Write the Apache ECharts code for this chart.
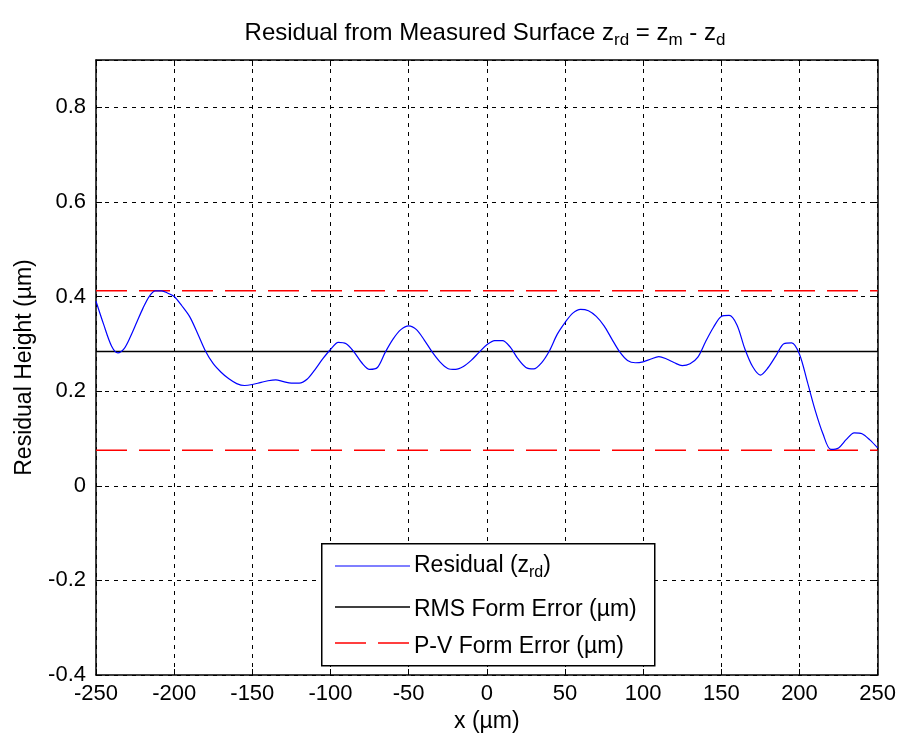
<!DOCTYPE html>
<html><head><meta charset="utf-8">
<script src="https://cdn.jsdelivr.net/npm/echarts@6/dist/echarts.min.js"></script>
<style>html,body{margin:0;padding:0;background:#fff}#c{width:899px;height:742px}</style>
</head><body><div id="c"></div>
<script>
const xValues = [-250,-245,-240,-236,-232,-228,-224,-220,-216,-212,-208,-204,-200,-195,-190,-185,-180,-175,-170,-165,-160,-155,-150,-145,-140,-135,-130,-125,-120,-115,-110,-105,-100,-95,-90,-85,-80,-75,-70,-65,-60,-55,-50,-45,-40,-35,-30,-25,-20,-15,-10,-5,0,5,10,15,20,25,30,35,40,45,50,55,60,65,70,75,80,85,90,95,100,105,110,115,120,125,130,135,140,145,150,155,160,165,170,175,180,185,190,195,200,205,210,215,220,225,230,235,240,245,250];
const residual = [0.390,0.340,0.295,0.281,0.290,0.315,0.345,0.375,0.400,0.412,0.412,0.407,0.400,0.380,0.357,0.322,0.285,0.258,0.240,0.226,0.216,0.212,0.214,0.218,0.222,0.224,0.220,0.217,0.217,0.225,0.245,0.268,0.288,0.303,0.300,0.283,0.260,0.246,0.250,0.282,0.310,0.330,0.338,0.330,0.308,0.283,0.262,0.248,0.246,0.252,0.265,0.282,0.298,0.307,0.307,0.293,0.268,0.250,0.247,0.260,0.285,0.320,0.345,0.365,0.373,0.370,0.358,0.338,0.310,0.283,0.265,0.260,0.262,0.268,0.273,0.268,0.260,0.254,0.258,0.272,0.305,0.335,0.358,0.360,0.340,0.290,0.252,0.234,0.250,0.275,0.300,0.302,0.278,0.220,0.160,0.110,0.077,0.080,0.098,0.112,0.110,0.097,0.080];
const rmsValue = 0.284;
const pvTop = 0.412;
const pvBottom = 0.075;
const xRange = [-250, 250];
const yRange = [-0.4, 0.9];
const xTicks = [-250,-200,-150,-100,-50,0,50,100,150,200,250];
const yTicks = [-0.4,-0.2,0,0.2,0.4,0.6,0.8];
const seriesNames = ['Residual (zrd)', 'RMS Form Error (µm)', 'P-V Form Error (µm)'];

const FONT = 'Liberation Sans';
const TICK_FS = 22;
const LABEL_FS = 23;
const chart = echarts.init(document.getElementById('c'), null, {renderer: 'canvas'});
const gridLine = {show: true, lineStyle: {color: '#000', type: [4, 5], width: 1}};
const axisLine = {show: true, onZero: false, lineStyle: {color: '#000', width: 1.5}};
const tick = {show: true, inside: true, length: 6, lineStyle: {color: '#000', width: 1}};
const PV_DASH = [31, 12];
const colors = ['#0000ff', '#000000', '#ff0000'];

// legend drawn as graphic (box, sample lines, labels)
const LG = {x: 321, y: 543, w: 333, h: 122, lineRows: [566, 607, 643], textRows: [566, 610, 647], lx0: 335, lx1: 410, tx: 414};
const legendLabels = ['{t|Residual (z}{s|rd}{t|)}', '{t|RMS Form Error (µm)}', '{t|P-V Form Error (µm)}'];
const legendGraphics = [
  {type: 'rect', left: LG.x, top: LG.y, shape: {width: LG.w, height: LG.h},
    style: {fill: '#fff', stroke: '#000', lineWidth: 1.5}, z: 100}
];
LG.lineRows.forEach((ry, i) => {
  legendGraphics.push({type: 'line', shape: {x1: LG.lx0, y1: ry, x2: LG.lx1, y2: ry},
    style: {stroke: colors[i], lineWidth: i === 0 ? 1.2 : 1.5, lineDash: i === 2 ? PV_DASH : null}, z: 101});
  legendGraphics.push({type: 'text', x: LG.tx, y: LG.textRows[i],
    style: {text: legendLabels[i], rich: {
      t: {fontFamily: FONT, fontSize: LABEL_FS, fill: '#000'},
      s: {fontFamily: FONT, fontSize: 16, fill: '#000', padding: [13, 0, 0, 0]}
    }, verticalAlign: 'middle', align: 'left'}, z: 101});
});

chart.setOption({
  animation: false,
  backgroundColor: '#fff',
  title: {
    text: '{t|Residual from Measured Surface z}{s|rd}{t| = z}{s|m}{t| - z}{s|d}',
    left: 480, top: 13, textAlign: 'center',
    textStyle: {fontWeight: 'normal', rich: {
      t: {fontFamily: FONT, fontSize: 24, color: '#000'},
      s: {fontFamily: FONT, fontSize: 17, color: '#000', padding: [14, 0, 0, 0]}
    }}
  },
  grid: {left: 96, right: 21, top: 60, bottom: 67, containLabel: false},
  graphic: legendGraphics,
  xAxis: [{
    type: 'value', min: xRange[0], max: xRange[1], interval: 50,
    name: 'x (µm)', nameLocation: 'middle', nameGap: 33,
    nameTextStyle: {fontFamily: FONT, fontSize: LABEL_FS, color: '#000'},
    axisLine: axisLine, axisTick: tick, splitLine: gridLine,
    axisLabel: {fontFamily: FONT, fontSize: TICK_FS, color: '#000', margin: 8,
      formatter: v => xTicks.includes(v) ? String(v) : ''}
  }, {
    type: 'value', position: 'top', min: xRange[0], max: xRange[1], interval: 50,
    axisLine: axisLine, axisTick: tick, splitLine: {show: false}, axisLabel: {show: false}
  }],
  yAxis: [{
    type: 'value', min: yRange[0], max: yRange[1], interval: 0.2,
    name: 'Residual Height (µm)', nameLocation: 'middle', nameGap: 60, nameRotate: 90,
    nameTextStyle: {fontFamily: FONT, fontSize: LABEL_FS, color: '#000'},
    axisLine: axisLine, axisTick: tick, splitLine: gridLine,
    axisLabel: {fontFamily: FONT, fontSize: TICK_FS, color: '#000', margin: 10,
      formatter: v => { const r = Math.round(v * 10) / 10; return yTicks.some(t => Math.abs(t - r) < 1e-9) ? String(r) : ''; }}
  }, {
    type: 'value', position: 'right', min: yRange[0], max: yRange[1], interval: 0.2,
    axisLine: axisLine, axisTick: tick, splitLine: {show: false}, axisLabel: {show: false}
  }],
  series: [
    {name: seriesNames[0], type: 'line', data: xValues.map((x, i) => [x, residual[i]]),
      smooth: 0.3, symbol: 'none', lineStyle: {color: colors[0], width: 1.2}, z: 3},
    {name: seriesNames[1], type: 'line', data: [[xRange[0], rmsValue], [xRange[1], rmsValue]],
      symbol: 'none', lineStyle: {color: colors[1], width: 1.5}, z: 2},
    {name: seriesNames[2], type: 'line', data: [[xRange[0], pvTop], [xRange[1], pvTop]],
      symbol: 'none', lineStyle: {color: colors[2], width: 1.5, type: PV_DASH}, z: 2},
    {name: seriesNames[2], type: 'line', data: [[xRange[0], pvBottom], [xRange[1], pvBottom]],
      symbol: 'none', lineStyle: {color: colors[2], width: 1.5, type: PV_DASH}, z: 2}
  ]
});
</script></body></html>
